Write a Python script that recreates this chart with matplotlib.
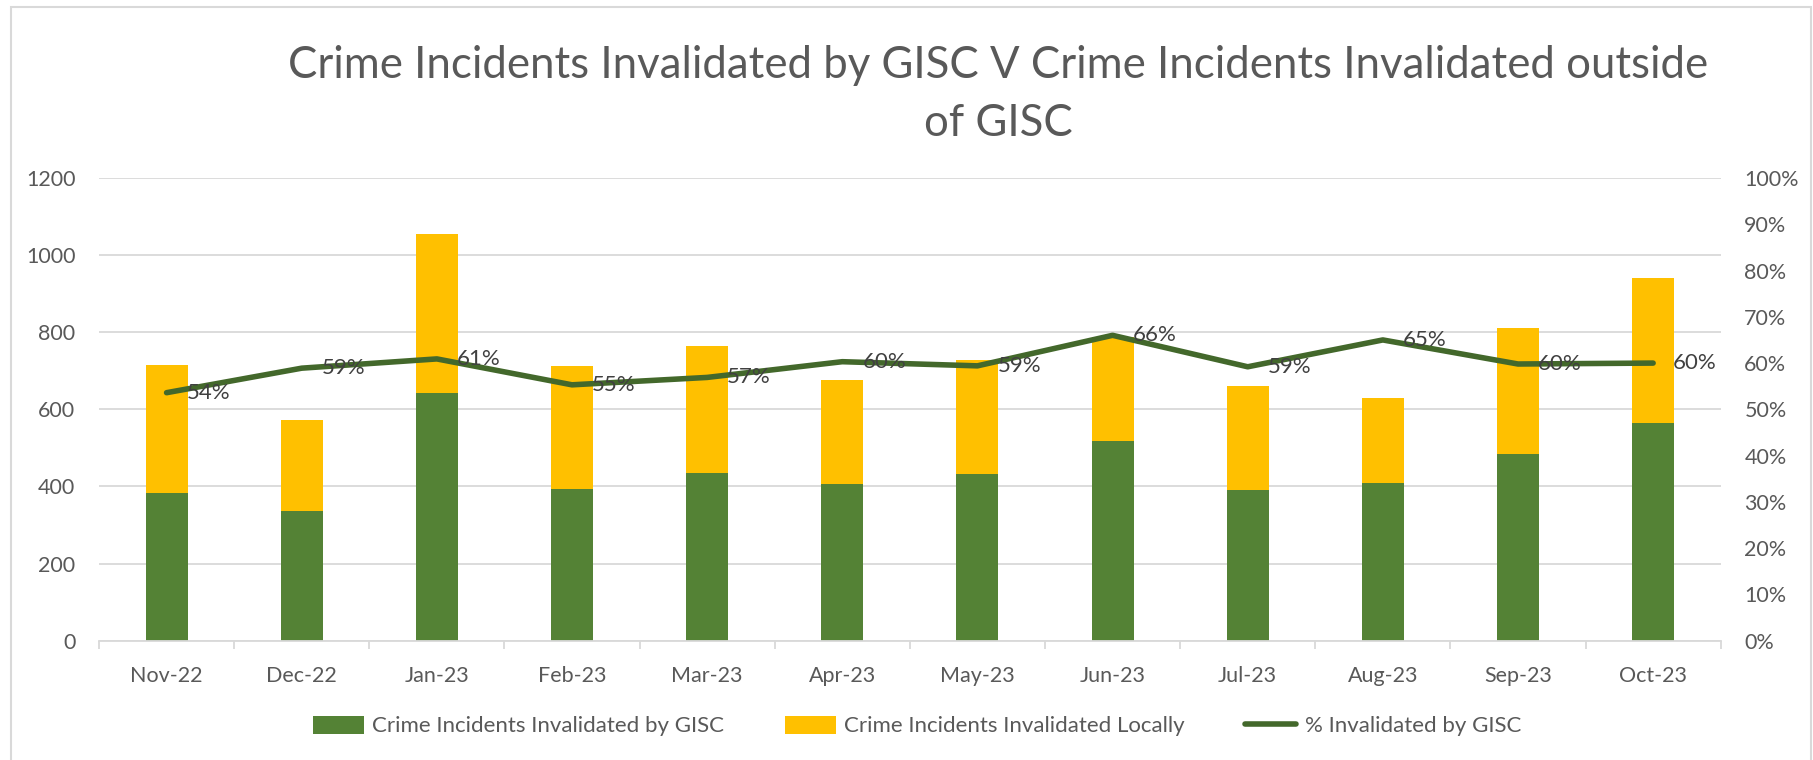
import matplotlib.pyplot as plt
import matplotlib.patches as patches
import numpy as np

months = ["Nov-22", "Dec-22", "Jan-23", "Feb-23", "Mar-23", "Apr-23",
          "May-23", "Jun-23", "Jul-23", "Aug-23", "Sep-23", "Oct-23"]
gisc = [384, 337, 642, 394, 435, 407, 433, 519, 391, 409, 485, 565]
local = [332, 235, 412, 319, 330, 268, 296, 268, 269, 220, 326, 376]
pct = [0.536, 0.589, 0.609, 0.553, 0.569, 0.603, 0.594, 0.660, 0.592, 0.650, 0.598, 0.600]
pct_labels = ["54%", "59%", "61%", "55%", "57%", "60%", "59%", "66%", "59%", "65%", "60%", "60%"]

GREEN = "#548235"
YELLOW = "#FFC000"
LINE = "#43682B"
GRID = "#D9D9D9"
TXT = "#595959"

plt.rcParams['font.family'] = ['Lato', 'DejaVu Sans']

fig = plt.figure(figsize=(18.13, 7.6), dpi=100)
W, H = 1813, 760
ax = fig.add_axes([99 / W, 1 - 640.7 / H, (1720.7 - 99) / W, (640.7 - 178) / H])
x = np.arange(len(months))

ax.bar(x, gisc, width=0.31, color=GREEN, zorder=2, label="Crime Incidents Invalidated by GISC")
ax.bar(x, local, width=0.31, bottom=gisc, color=YELLOW, zorder=2, label="Crime Incidents Invalidated Locally")

ax.set_xlim(-0.5, len(months) - 0.5)
ax.set_ylim(0, 1200)
ax.set_yticks(range(0, 1201, 200))
ax.grid(axis='y', color=GRID, linewidth=1.3, zorder=0)
ax.set_axisbelow(True)
ax.set_xticks(x)
ax.set_xticklabels(months)
ax.set_xticks(np.arange(-0.5, len(months)), minor=True)
ax.tick_params(axis='x', which='major', length=0, pad=18, labelsize=15.5, labelcolor=TXT)
ax.tick_params(axis='x', which='minor', length=6, color=GRID, width=1.3)
ax.tick_params(axis='y', length=0, pad=17, labelsize=15.5, labelcolor=TXT)
for s in ['top', 'right', 'left']:
    ax.spines[s].set_visible(False)
ax.spines['bottom'].set_color(GRID)
ax.spines['bottom'].set_linewidth(1.3)

ax2 = ax.twinx()
ax2.plot(x, pct, color=LINE, linewidth=4, solid_capstyle='round', solid_joinstyle='round',
         label="% Invalidated by GISC", zorder=3)
ax2.set_ylim(0, 1)
ax2.set_yticks(np.arange(0, 1.01, 0.1))
ax2.set_yticklabels([f"{int(round(v * 100))}%" for v in np.arange(0, 1.01, 0.1)])
ax2.tick_params(axis='y', length=0, pad=17, labelsize=15.5, labelcolor=TXT)
for s in ax2.spines.values():
    s.set_visible(False)

for xi, p, lab in zip(x, pct, pct_labels):
    ax2.annotate(lab, (xi, p), xytext=(20, 0), textcoords='offset pixels',
                 ha='left', va='center', fontsize=16, color="#404040", zorder=4)

fig.text(998 / W, 1 - 66 / H, "Crime Incidents Invalidated by GISC V Crime Incidents Invalidated outside",
         ha='center', va='center', fontsize=31.5, color=TXT)
fig.text(998 / W, 1 - 124 / H, "of GISC", ha='center', va='center', fontsize=31.5, color=TXT)

h1, l1 = ax.get_legend_handles_labels()
h2, l2 = ax2.get_legend_handles_labels()
fig.legend(h1 + h2, l1 + l2, loc='center', bbox_to_anchor=(917 / W, 1 - 726 / H), ncol=3,
           frameon=False, fontsize=16, labelcolor=TXT, handlelength=2.3, handleheight=0.9,
           columnspacing=2.7, handletextpad=0.4)

fig.patches.append(patches.Rectangle((11 / W, -0.1), (1811 - 11) / W, 1.1 - 7 / H,
                                     transform=fig.transFigure, fill=False,
                                     edgecolor=GRID, linewidth=1.5))

fig.savefig("out.png", dpi=100)
